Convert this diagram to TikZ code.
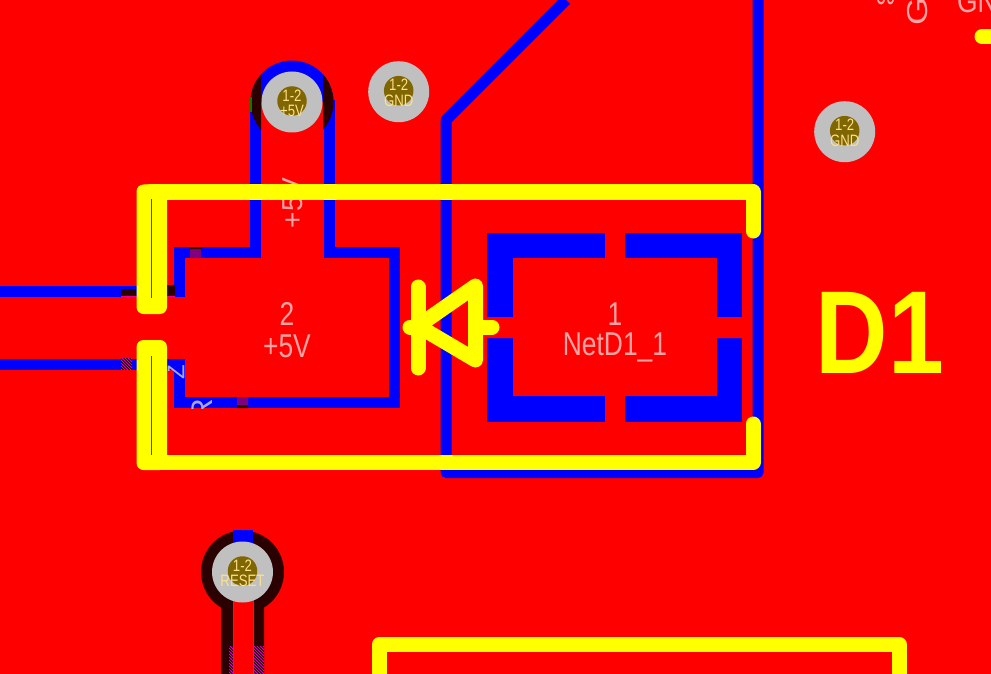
\documentclass[tikz,border=0pt]{standalone}
\usepackage{fontspec}
\setmainfont{Liberation Sans}
\usetikzlibrary{patterns}
\definecolor{board}{RGB}{255,0,0}
\definecolor{copper}{RGB}{0,0,255}
\definecolor{silk}{RGB}{255,255,0}
\definecolor{darkring}{RGB}{42,0,0}
\definecolor{padgrey}{RGB}{192,192,192}
\definecolor{holeolive}{RGB}{128,102,0}
\definecolor{pinktext}{RGB}{255,165,165}
\definecolor{padtext}{RGB}{255,224,138}
\definecolor{keepout}{RGB}{128,0,128}
\tikzstyle{trace}=[draw=copper,line width=11pt,line join=miter]
\tikzstyle{silkline}=[draw=silk,line width=15pt,line cap=round,line join=round]
\tikzstyle{silkblock}=[fill=silk,rounded corners=7pt]
\tikzstyle{via}=[circle,fill=padgrey,minimum size=61pt,inner sep=0pt]
\tikzstyle{hole}=[circle,fill=holeolive,minimum size=29.5pt,inner sep=0pt]
\tikzstyle{viatext}=[text=padtext,inner sep=0pt,xscale=0.8,transform shape,font=\fontsize{16.5}{16.5}\selectfont]
\tikzstyle{nettext}=[text=pinktext,inner sep=0pt,xscale=0.8,transform shape,font=\fontsize{33}{33}\selectfont]
\tikzstyle{backtext}=[text=blue!35!white,inner sep=0pt,rotate=90,font=\fontsize{30}{30}\selectfont]
\begin{document}
\begin{tikzpicture}[x=1pt,y=-1pt]
    \useasboundingbox (0,0) rectangle (991,674);
    \clip (0,0) rectangle (991,674);
    \fill[board] (0,0) rectangle (991,674);

    % copper traces first
    \path[trace] (0,291) -- (179.5,291) -- (179.5,252.5) -- (255.5,252.5) -- (255.5,100);
    \path[trace] (329,100) -- (329,252.5) -- (394.5,252.5) -- (394.5,402.5) -- (179.5,402.5) -- (179.5,364) -- (0,364);
    \path[trace,line join=round] (566,0) -- (446,120) -- (446,472.5) -- (758,472.5) -- (758,-8);
    \begin{scope}
        \clip (240,50) rectangle (345,102);
        \fill[copper] (292,102) circle (41.5);
    \end{scope}

    % dark parts of the rings
    \begin{scope}
        \clip (240,74) rectangle (261,135) (323,74) rectangle (345,135);
        \fill[darkring] (292,102) circle (41.5);
    \end{scope}
    \fill[green!50!black] (250,97) rectangle (252,112);
    \fill[darkring] (242.5,572) circle (41.5);
    \fill[copper] (233,530) rectangle (253,545);
    \fill[darkring] (221,590) rectangle (233,674) (253,590) rectangle (264,674);
    \fill[board] (233,590) rectangle (253,674);
    \draw[magenta,line width=0.8pt] (233,600) -- (233,674) (253,600) -- (253,674);
    \fill[pattern=north west lines,pattern color=magenta] (229,646) rectangle (233,674) (253,646) rectangle (264,674);

    % pad of the diode, side 1
    \fill[copper] (487,233) rectangle (742,422);
    \fill[board] (513,258) rectangle (717,396);
    \fill[board] (605,230) rectangle (625,425) (480,317) rectangle (750,338);

    % small patches on the traces
    \fill[darkring] (121,289) rectangle (136,296) (167,285) rectangle (175,296);
    \draw[magenta,line width=0.8pt] (121,296.6) -- (175,296.6);
    \fill[darkring] (121,358) rectangle (132,369);
    \fill[pattern=north west lines,pattern color=magenta] (121,358) rectangle (132,369);
    \fill[keepout] (190,249) rectangle (201,258) (237,397) rectangle (248,405);
    \fill[darkring] (190,247) rectangle (201,249) (237,405) rectangle (248,408);

    % letters that only show on the copper
    \begin{scope}
        \clip (167,358) rectangle (185,370) (174,370) rectangle (185,397) (185,397) rectangle (237,408);
        \node[backtext,font=\fontsize{24}{24}\selectfont] (backz) at (176,372) {Z};
        \node[backtext] (backr) at (202,410) {R};
    \end{scope}

    % vias
    \foreach \pos/\name/\net in {{(292,102)/viaa/+5V},{(398.7,91.7)/viab/GND},{(844.7,131.7)/viac/GND},{(242.5,572)/viad/RESET}}
    {
        \node[via] (\name) at \pos {};
        \node[hole] at ([yshift=1pt]\name) {};
        \node[viatext] at ([yshift=6.5pt]\name) {1-2};
        \node[viatext] at ([yshift=-9pt]\name) {\net};
    }

    % net names
    \node[nettext] (padtwo) at (287,314) {2};
    \node[nettext] (nettwo) at (287,346) {+5V};
    \node[nettext] (padone) at (615,314) {1};
    \node[nettext] (netone) at (615,347) {NetD1\_1};
    \node[nettext,rotate=90,xscale=0.78,font=\fontsize{36}{36}\selectfont] (netrot) at (293,203) {+5V};
    \node[nettext,rotate=90,xscale=1,anchor=west,font=\fontsize{36}{36}\selectfont] (topa) at (918,26) {GND};
    \node[nettext,anchor=south west] (topb) at (957,13) {GND};
    \node[nettext,anchor=base,xscale=0.65] (topc) at (886,4.5) {39};

    % silkscreen
    \path[silkline] (753,231) -- (753,192) -- (150,192);
    \path[silkline] (753,424) -- (753,462.5) -- (150,462.5);
    \path[silkblock] (136.5,184.5) rectangle (167,314);
    \path[silkblock] (136.5,340) rectangle (167,470);
    \draw[board,line width=0.7pt] (151.5,199) -- (151.5,298) (151.5,356) -- (151.5,455);
    \path[silkline] (418,287) -- (418,368);
    \path[silkline] (475.5,286) -- (418,326) -- (475.5,360) -- cycle;
    \path[silkline] (410,327) -- (418,327) (475.5,327) -- (492,327);
    \path[silkline] (982,36.5) -- (1000,36.5);
    \path[silkline] (379,690) -- (379,644.5) -- (899,644.5) -- (899,690);
    \node[text=silk,inner sep=0pt,xscale=0.85,transform shape,font=\bfseries\fontsize{118}{118}\selectfont] (refdes) at (880,333) {D1};
\end{tikzpicture}
\end{document}
